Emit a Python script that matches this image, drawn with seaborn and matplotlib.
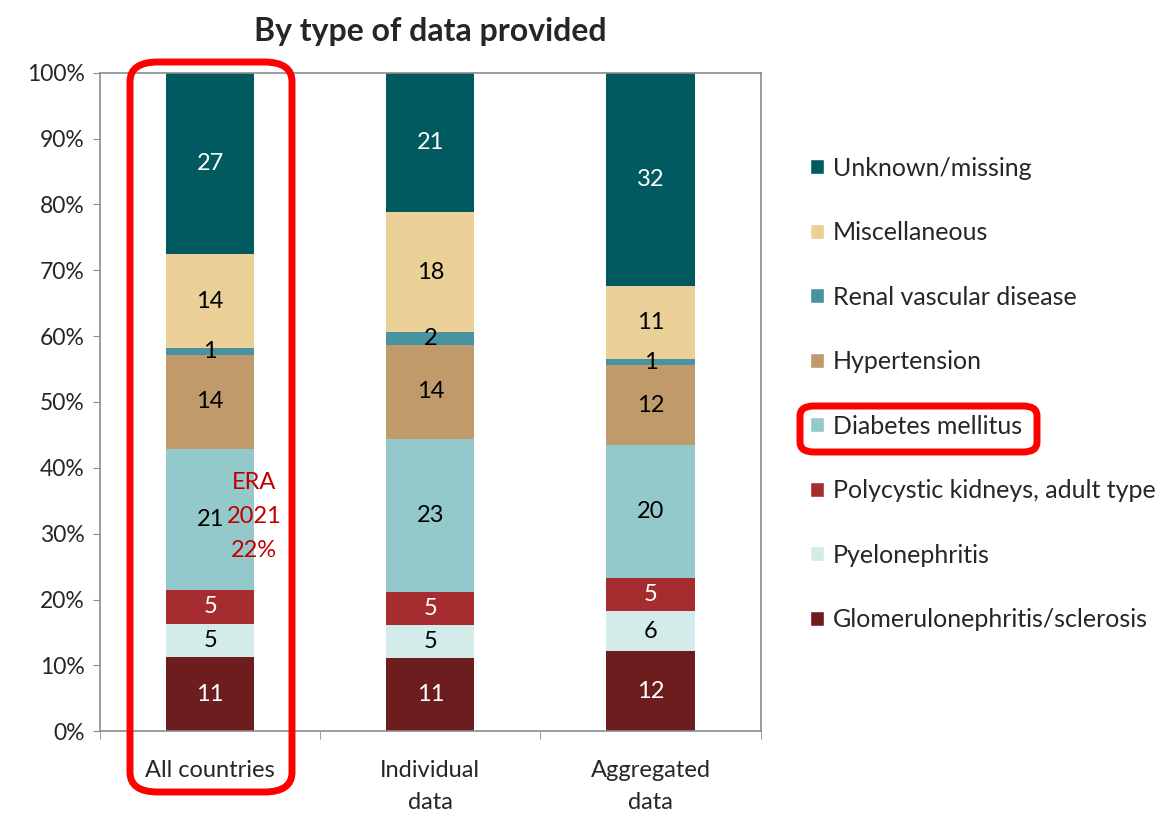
import numpy as np
import pandas as pd
import matplotlib
matplotlib.use("Agg")
import matplotlib.pyplot as plt
from matplotlib.patches import Patch, FancyBboxPatch
from matplotlib.ticker import PercentFormatter
import seaborn as sns

# Data - segment labels as shown on the bars (bottom to top)
groups = ["All countries", "Individual\ndata", "Aggregated\ndata"]
causes = ["Glomerulonephritis/sclerosis", "Pyelonephritis", "Polycystic kidneys, adult type",
          "Diabetes mellitus", "Hypertension", "Renal vascular disease",
          "Miscellaneous", "Unknown/missing"]
glomerulo = [11, 11, 12]
pyelo = [5, 5, 6]
polycystic = [5, 5, 5]
diabetes = [21, 23, 20]
hypertension = [14, 14, 12]
renal = [1, 2, 1]
misc = [14, 18, 11]
unknown = [27, 21, 32]

colors = ["#6E1D1F", "#D3ECEA", "#A52D2F", "#93C9CB",
          "#C09A6A", "#4892A2", "#EAD097", "#005A5F"]
text_colors = ["white", "black", "white", "black", "black", "black", "black", "white"]

df = pd.DataFrame({"group": groups, causes[0]: glomerulo, causes[1]: pyelo,
                   causes[2]: polycystic, causes[3]: diabetes, causes[4]: hypertension,
                   causes[5]: renal, causes[6]: misc, causes[7]: unknown})

# Normalise each bar to 100%
totals = df[causes].sum(axis=1)
pct = df[causes].div(totals, axis=0) * 100

sns.set_style("white")
plt.rcParams["font.family"] = ["Lato", "DejaVu Sans"]

fig = plt.figure(figsize=(11.63, 8.17), dpi=100)
ax = fig.add_axes([0.086, 0.105, 0.568, 0.806])

bottom = np.zeros(len(groups))
for cause, col, tcol in zip(causes, colors, text_colors):
    sns.barplot(x=df["group"], y=pct[cause], bottom=bottom, color=col, width=0.4,
                errorbar=None, ax=ax, saturation=1, linewidth=0)
    for i in range(len(groups)):
        ax.text(i, bottom[i] + pct[cause][i] / 2, str(df[cause][i]), ha="center", va="center",
                color=tcol, fontsize=17)
    bottom = bottom + pct[cause].values

ax.set_ylim(0, 100)
ax.set_xlim(-0.5, 2.5)
ax.set_yticks(np.arange(0, 101, 10))
ax.yaxis.set_major_formatter(PercentFormatter(decimals=0))
ax.set_xlabel("")
ax.set_ylabel("")
ax.tick_params(axis="y", labelsize=16.5, length=5, color="#8c8c8c", left=True, pad=6)
ax.tick_params(axis="x", labelsize=17, length=0, pad=21)
ax.set_xticks([0, 1, 2])
for lbl in ax.get_xticklabels():
    lbl.set_linespacing(1.6)
ax.set_xticks([-0.5, 0.5, 1.5, 2.5], minor=True)
ax.tick_params(axis="x", which="minor", length=6, color="#8c8c8c", bottom=True)
for s in ax.spines.values():
    s.set_color("#8c8c8c")
    s.set_linewidth(1.2)
    s.set_visible(True)

ax.set_title("By type of data provided", fontsize=23, fontweight="bold", pad=23)

# ERA annotation
ax.text(0.2, 32.6, "ERA\n2021\n22%", ha="center", va="center", color="#C00000",
        fontsize=17, linespacing=1.75)

# Legend (top to bottom)
handles = [Patch(facecolor=c, label=l) for c, l in zip(colors[::-1], causes[::-1])]
fig.legend(handles=handles, loc="center left", bbox_to_anchor=(0.686, 0.518),
           frameon=False, fontsize=18, labelspacing=1.66, handlelength=0.55,
           handleheight=0.55, handletextpad=0.35, borderpad=0)

# Red highlight boxes
fig.patches.append(FancyBboxPatch((130 / 1163, 1 - 792 / 817), 162 / 1163, 730 / 817,
                                  boxstyle="round,pad=0,rounding_size=0.024",
                                  transform=fig.transFigure, fill=False,
                                  edgecolor="#FF0000", linewidth=5))
fig.patches.append(FancyBboxPatch((800 / 1163, 1 - 452 / 817), 237 / 1163, 46 / 817,
                                  boxstyle="round,pad=0,rounding_size=0.012",
                                  transform=fig.transFigure, fill=False,
                                  edgecolor="#FF0000", linewidth=5))

plt.savefig("out.png", dpi=100)
